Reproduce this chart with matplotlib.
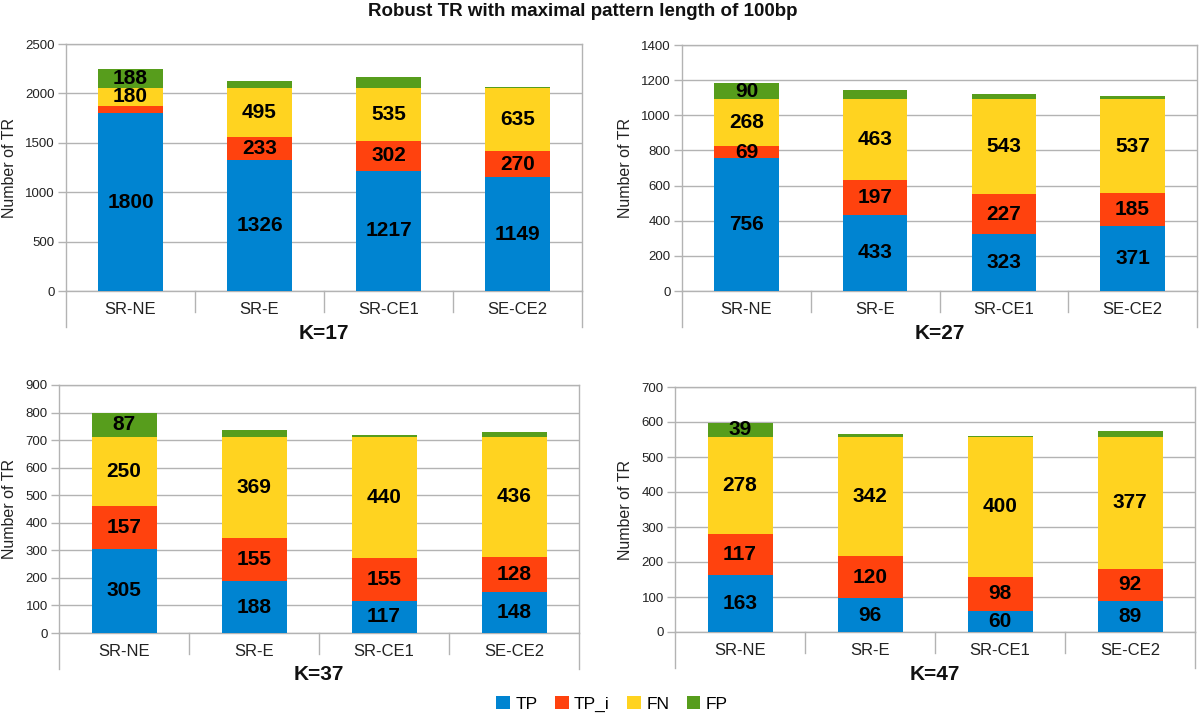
import matplotlib
matplotlib.use("Agg")
import matplotlib.pyplot as plt
from matplotlib.patches import Patch

plt.rcParams['font.family'] = ['Liberation Sans', 'DejaVu Sans']

categories = ["SR-NE", "SR-E", "SR-CE1", "SE-CE2"]
series_names = ["TP", "TP_i", "FN", "FP"]
colors = ["#0084d1", "#ff420e", "#ffd320", "#579d1c"]

k17_tp = [1800, 1326, 1217, 1149]
k17_tpi = [74, 233, 302, 270]
k17_fn = [180, 495, 535, 635]
k17_fp = [188, 75, 110, 15]

k27_tp = [756, 433, 323, 371]
k27_tpi = [69, 197, 227, 185]
k27_fn = [268, 463, 543, 537]
k27_fp = [90, 50, 29, 14]

k37_tp = [305, 188, 117, 148]
k37_tpi = [157, 155, 155, 128]
k37_fn = [250, 369, 440, 436]
k37_fp = [87, 23, 7, 19]

k47_tp = [163, 96, 60, 89]
k47_tpi = [117, 120, 98, 92]
k47_fn = [278, 342, 400, 377]
k47_fp = [39, 9, 3, 15]

panel_titles = ["K=17", "K=27", "K=37", "K=47"]
panel_ymax = [2500, 1400, 900, 700]
panel_ystep = [500, 200, 100, 100]

panels = [
    [k17_tp, k17_tpi, k17_fn, k17_fp],
    [k27_tp, k27_tpi, k27_fn, k27_fp],
    [k37_tp, k37_tpi, k37_fn, k37_fp],
    [k47_tp, k47_tpi, k47_fn, k47_fp],
]

W, H = 1200, 716
fig = plt.figure(figsize=(W / 100, H / 100), dpi=100)

# pixel boxes: (left, top, right, bottom)
boxes = [
    (66, 44, 582, 291),
    (682, 45, 1197, 291),
    (59, 385, 579, 633),
    (675, 387, 1195, 632),
]

grid_col = "#b3b3b3"

for i, (series, title, ymax, ystep, box) in enumerate(zip(panels, panel_titles, panel_ymax, panel_ystep, boxes)):
    l, t, r, b = box
    ax = fig.add_axes([l / W, 1 - b / H, (r - l) / W, (b - t) / H])
    x = list(range(len(categories)))
    bottoms = [0] * len(categories)
    for vals, col in zip(series, colors):
        ax.bar(x, vals, width=0.5, bottom=bottoms, color=col, edgecolor='none', zorder=3)
        for xi, v, b0 in zip(x, vals, bottoms):
            if v / ymax > 0.047:
                ax.text(xi, b0 + v / 2, str(v), ha='center', va='center',
                        fontsize=15, fontweight='bold', color='black', zorder=4)
        bottoms = [bb + v for bb, v in zip(bottoms, vals)]
    ax.set_xlim(-0.5, len(categories) - 0.5)
    ax.set_ylim(0, ymax)
    ax.set_yticks(range(0, ymax + 1, ystep))
    ax.yaxis.grid(True, color=grid_col, lw=1, zorder=0)
    ax.set_axisbelow(True)
    for s in ax.spines.values():
        s.set_color(grid_col)
        s.set_linewidth(1)
    ax.tick_params(axis='y', colors=grid_col, length=6, width=1, labelsize=9.5, labelcolor='#222222', pad=2)
    ax.set_xticks(x)
    ax.set_xticklabels(categories, fontsize=12, color='#222222')
    ax.tick_params(axis='x', length=0, pad=8)
    ax.set_ylabel("Number of TR", fontsize=11.5, color='#222222', labelpad=6)
    hpx = b - t
    ext_outer = 36 / hpx
    ext_inner = 21 / hpx
    for xe in [0.0, 1.0]:
        ax.plot([xe, xe], [0, -ext_outer], transform=ax.transAxes, color=grid_col, lw=1, clip_on=False)
    for xe in [0.25, 0.5, 0.75]:
        ax.plot([xe, xe], [0, -ext_inner], transform=ax.transAxes, color=grid_col, lw=1, clip_on=False)
    ax.text(0.5, -42 / hpx, title, transform=ax.transAxes, ha='center', va='center',
            fontsize=15, fontweight='bold', color='#111111')

fig.text(583 / W, 1 - 11 / H, "Robust TR with maximal pattern length of 100bp",
         ha='center', va='center', fontsize=13.5, fontweight='bold', color='#111111')

handles = [Patch(facecolor=c, edgecolor='none') for c in colors]
fig.legend(handles, series_names, loc='center', bbox_to_anchor=(612 / W, 1 - 704 / H),
           ncol=4, frameon=False, fontsize=12.5, handlelength=0.8, handleheight=0.8,
           handletextpad=0.3, columnspacing=1.0)

fig.savefig("out.png", dpi=100)
